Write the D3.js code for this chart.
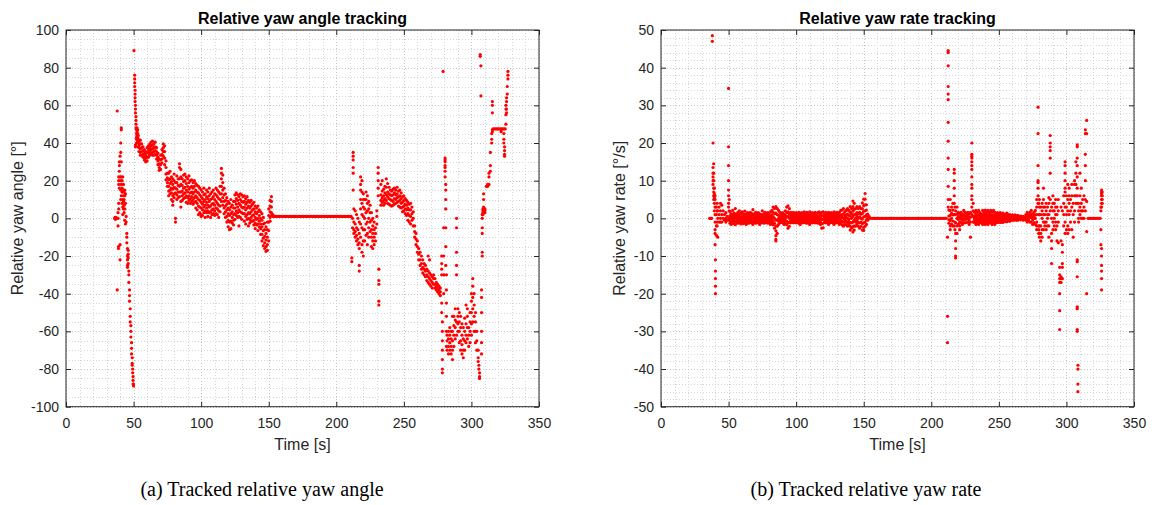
<!DOCTYPE html>
<html>
<head>
<meta charset="utf-8">
<script src="https://cdn.jsdelivr.net/npm/d3@7"></script>
<style>
  body { margin: 0; background: #fff; }
  svg { display: block; }
</style>
</head>
<body>
<script>
// tick labels
var timeTicks = [0, 50, 100, 150, 200, 250, 300, 350];
var angleTicks = [-100, -80, -60, -40, -20, 0, 20, 40, 60, 80, 100];
var rateTicks = [-50, -40, -30, -20, -10, 0, 10, 20, 30, 40, 50];

// relative yaw angle [deg], grouped as [time, [values at that time]]
var angleStart = [
  [36, [0]], [36.3, [0, 0.5]], [36.6, [0, -0.5]], [37, [0, 0.5]], [37.3, [0]],
  [37.9, [57, -38]],
  [38.5, [3, 0, -4]], [38.8, [-15, -16]],
  [39, [22, 20, 18, 8, 5]], [39.5, [30, 28, 25, 16]],
  [40, [33, 22, -14, -22]], [40.5, [40, 35, 20, 15, 10]],
  [40.9, [48, 47, 30, 22, 18, 12]], [41.5, [20, 16, 14, 8]],
  [42, [22, 14, 10, 6, 2]], [42.5, [18, 15, 12, 9, 5]],
  [43, [14, 10, 7, 3]], [43.5, [15, 12, 5, -1]],
  [44, [13, 8, -3]], [44.5, [1, -2]],
  [45, [-8, -10, -13]], [45.5, [-16, -20, -22, -25, -26]],
  [46, [-17, -19, -21, -24]], [46.5, [-28, -30, -34]],
  [47, [-38, -41, -44]], [47.5, [-48, -52, -55]],
  [48, [-57, -60, -63]], [48.5, [-66, -69, -72]],
  [49, [-74, -77, -78]], [49.3, [-80, -82]],
  [49.6, [-84, -86, -88]], [50, [-89, -88]]
];
var anglePeak = [
  [50.3, [89]],
  [50.8, [76, 74, 72, 70]], [51.1, [68, 66, 64, 62]], [51.4, [60, 58, 56, 39, 38]],
  [51.8, [54, 52, 50, 48]], [52.2, [47, 45, 43, 42, 40]], [52.6, [48, 46, 44, 42]],
  [53, [47, 45, 43, 41]], [53.5, [44, 42, 40, 38]],
  [54, [41, 39, 37.5, 35.5]], [55, [41.5, 39.5, 37, 35, 33.5]], [56, [39.5, 37.5, 35.5, 33.5]],
  [57, [38, 36, 34, 32.5]], [58, [36.5, 34.5, 32.5, 31]], [59, [35.5, 33.5, 32, 30]],
  [60, [37.5, 35, 32.5, 30.5]], [61, [38.5, 36.5, 34.5, 32.5]], [62, [39.5, 37.5, 35.5, 33.5]],
  [63, [40.5, 38.5, 36.5, 34.5]], [64, [41, 39, 37, 35, 33.5]], [65, [39.5, 37.5, 35.5, 33.5]],
  [66, [40.5, 38, 36, 34]], [67, [37.5, 35.5, 33.5, 31.5]], [68, [34.5, 32.5, 30.5, 28.5]],
  [69, [31.5, 29, 27, 25.5]], [70, [33.5, 31, 28.5, 26]], [71, [36.5, 34, 31.5, 29.5]],
  [72, [39.5, 37.5, 35.5, 33]], [73, [38.5, 35.5, 32, 28.5]], [74, [30.5, 27, 23.5, 20.5]],
  [75, [24, 21.5, 19, 17]]
];
var angleMid = [
  [76, [24, 20.5, 17, 14.5, 12]], [77, [25, 21, 18.5, 15, 13]], [78, [22, 19.5, 16, 13.5, 10]],
  [79, [21, 18, 15.5, 12, 9, 7]], [80, [23.5, 20, 16.5, 13, 11]], [81, [19, 16, 13.5, 0, -2]],
  [82, [22.5, 19, 15.5, 12.5, 10]], [83, [21, 17.5, 14, 11]], [84, [29, 27, 21, 17, 14, 11.5]],
  [85, [26, 22, 18, 14, 9, 6]], [86, [21, 17.5, 14.5, 12, 9.5]], [87, [23, 19.5, 16, 13, 10.5]],
  [88, [23.5, 20, 16.5, 13.5, 11]], [89, [22, 18.5, 15, 12, 8.5]], [90, [21, 17, 14, 11, 8]],
  [91, [22.5, 19, 15.5, 12, 9.5]], [92, [20, 16.5, 13.5, 10.5, 8]], [93, [20.5, 17, 14, 11.5, 9]],
  [94, [19, 16, 13, 10, 7.5]], [95, [20, 17, 14, 11, 8.5]], [96, [18.5, 15, 12, 9, 5.5]],
  [97, [17.5, 14, 11, 8, 4.5]], [98, [17, 13.5, 10, 6.5, 2]], [99, [16, 12.5, 9.5, 6, 3]],
  [100, [15, 11.5, 8.5, 5.5, 2, 1]], [101, [14, 10.5, 7.5, 4.5, 1.5]], [102, [16, 12.5, 9, 6, 3]],
  [103, [13, 10, 7, 4, 0.5]], [104, [15, 11.5, 8.5, 5.5, 3]], [105, [14, 10.5, 7, 4, 1]],
  [106, [16, 12, 9, 6, 3]], [107, [13, 10, 6.5, 3.5, 0.5]], [108, [14, 10.5, 7.5, 4.5, 2]],
  [109, [15, 11.5, 8, 5, 2.5]], [110, [13, 10, 7, 4, 1.5]], [111, [16, 12.5, 9, 5.5, 2.5]],
  [112, [15, 11.5, 8, 5, 2]], [113, [14, 10.5, 7, 4, 0.5]], [114, [17, 13, 10, 6.5, 3.5]],
  [115, [26.5, 24, 21, 17, 13, 9]], [116, [23, 19, 15, 11, 7]], [117, [16, 12.5, 9, 5.5, 2.5]],
  [118, [13, 9.5, 6.5, 3.5, 0.5]], [119, [11, 7.5, 4.5, 1, -2]], [120, [9, 5.5, 2.5, -1, -4.5]],
  [121, [8, 4.5, 1.5, -2, -6]], [122, [10, 6, 2.5, -1.5, -5.5]], [123, [7, 3.5, 0.5, -2.5]],
  [124, [9, 5.5, 2, -1, -3.5]], [125, [12.5, 9, 5.5, 2.5, -0.5]], [126, [13.5, 10.5, 7.5, 4, 1.5]],
  [127, [12.5, 9.5, 6, 3, 0.5]], [128, [11.5, 8, 4.5, 1, -4]], [129, [13, 10, 7, 3.5, 0.5]],
  [130, [12.5, 9, 6, 3, -0.5]], [131, [11.5, 8.5, 5.5, 2.5]], [132, [12, 9, 6, 2.5, -1.5]],
  [133, [10.5, 7.5, 4.5, 1, -3]], [134, [11.5, 8.5, 5.5, 2, -0.5]], [135, [9.5, 6.5, 3, 0, -4]],
  [136, [8.5, 5.5, 2.5, -0.5, -2.5]], [137, [9.5, 6.5, 3.5, 0.5, -1.5]], [138, [7.5, 4.5, 1.5, -1.5]],
  [139, [8.5, 5, 2, -1, -3.5]], [140, [6.5, 3.5, 0.5, -2.5, -5.5]], [141, [5.5, 2.5, -0.5, -3.5]],
  [142, [6.5, 3.5, 0, -3, -6.5]], [143, [4.5, 1.5, -1.5, -4.5]], [144, [3.5, 0, -3, -5.5, -8.5]],
  [145, [2.5, -1, -4.5, -8.5, -12]], [146, [0.5, -3, -6.5, -10.5, -14.5]], [147, [-2.5, -6, -9.5, -13, -16]],
  [148, [-4.5, -8, -11.5, -15, -17.5]], [149, [-2, -6, -10, -14, -17]], [150, [5, 1.5, -2, -6.5, -12]],
  [151, [9.5, 6.5, 3.5, 0.5, -1.5]], [152, [11.5, 9, 6, 3, 1.5]], [153, [2, 1]]
];
// flat hold at 1 deg
var angleFlatT = [154, 155, 156, 157, 158, 159, 160, 161, 162, 163, 164, 165, 166, 167, 168, 169, 170,
  171, 172, 173, 174, 175, 176, 177, 178, 179, 180, 181, 182, 183, 184, 185, 186, 187, 188, 189, 190,
  191, 192, 193, 194, 195, 196, 197, 198, 199, 200, 201, 202, 203, 204, 205, 206, 207, 208, 209, 210, 211];
var angleFlatV = 1;
var angleRecover = [
  [211.5, [-23, -21]], [212, [-5, 0]], [212.5, [35, 33, 31, 27, 24, 15]],
  [213, [5, -2, -6, -8]], [214, [4, -3, -7, -10]], [215, [2, -5, -9, -12]], [216, [0, -6, -11, -14]],
  [217, [-2, -8, -13, -16, -25, -28]], [218, [22, 18, 15, 10, 5, -3, -10]],
  [219, [20, 14, 8, 2, -5, -14, -18]], [220, [13, 10, 6, 1, -6, -12, -20]],
  [221, [10, 5, 0, -6, -12]], [222, [14, 10, 3, -3, -9]], [223, [12, 8, 4, -2, -8, -14]],
  [224, [9, 5, 0, -5, -10]], [225, [7, 3, -2, -7]], [226, [3, -1, -6, -10, -15]],
  [227, [0, -4, -8, -12, -16]], [228, [-2, -6, -10, -14]], [229, [-5, -8, -12]], [230, [4, 1, -3]],
  [231, [27, 24, 20, 16, 12]], [231.5, [-27, -33, -35, -44, -46]],
  [233, [18, 12.5, 9.5, 7]], [234, [20, 14.5, 11, 8.5]], [235, [15.5, 12, 9.5, 7]],
  [236, [17, 13.5, 10.5, 8]], [237, [21, 16.5, 12.5, 9.5]], [238, [18.5, 14, 11.5, 8]],
  [239, [16.5, 13, 10.5, 7.5]], [240, [15, 12.5, 10, 7]], [241, [14.5, 12, 9.5, 6.5]],
  [242, [15.5, 12.5, 9, 7]], [243, [16, 13.5, 10.5, 7.5]], [244, [15, 12.5, 10, 8]],
  [245, [16.5, 13, 11, 8.5]], [246, [14.5, 11.5, 9, 6.5]], [247, [15, 12, 9.5, 6]],
  [248, [13.5, 10.5, 8, 5.5]], [249, [11.5, 8.5, 6, 3.5]], [250, [12, 9.5, 6.5, 4]],
  [251, [10.5, 7.5, 5, 2.5]], [252, [9.5, 7, 4.5, 1.5]], [253, [8.5, 5.5, 2.5, -1]],
  [254, [7.5, 4.5, 1.5, -2]], [255, [8, 4.5, 1, -3]], [256, [6, 2.5, -1]], [257, [3.5, 0, -4]]
];
var angleDrop = [
  [258, [-4, -7, -10]], [259, [-8, -11, -14]], [260, [-12, -15, -18]], [261, [-16, -19, -22]],
  [262, [-18, -22, -25]], [263, [-20, -24, -27]], [264, [-22, -26, -29]], [265, [-24, -27, -30]],
  [266, [-25, -28, -31]], [267, [-27, -30, -33]], [268, [-20, -28, -31, -34]], [269, [-22, -29, -32, -35]],
  [270, [-30, -33, -36]], [271, [-31, -34, -37]], [272, [-30, -32, -35]], [273, [-32, -35, -37]],
  [274, [-34, -36, -38]], [275, [-35, -37, -39]], [276, [-36, -38, -40]], [277, [-37, -39, -41]],
  [278, [-20, -24, -27, -30, -45, -50]], [278.5, [-55, -60, -65, -70, -75, -80, -82]],
  [279, [78]], [279.5, [-5, -20, -30, -40]],
  [280.5, [32, 31, 30, 28, 27, 25, 22]], [281, [18, 15, 10, 5, -5, -15, -25]],
  [281.5, [-30, -38, -45, -52, -60, -68]],
  [282, [-65, -62, -70]], [283, [-68, -64, -60, -72]], [284, [-70, -66, -62, -58]],
  [285, [-72, -68, -64, -60]], [286, [-75, -70, -65, -60, -52]], [287, [-68, -62, -57, -52]],
  [288, [-64, -58, -54, -48]], [289, [0, -5, -18, -25, -30, -55, -62]], [290, [-60, -56, -52, -48]],
  [291, [-66, -60, -55, -50]], [292, [-70, -65, -58, -52]], [293, [-72, -67, -62, -56]],
  [294, [-74, -70, -64, -58]], [295, [-70, -65, -60, -53]], [296, [-66, -62, -56, -46]],
  [297, [-64, -58, -52, -48]], [298, [-68, -62, -58]], [299, [-66, -60, -55, -50]],
  [300, [-62, -56, -50, -44, -40]], [301, [-55, -48, -42, -36, -32]], [302, [-60, -52, -46, -40]],
  [303, [-66, -60, -55, -50]], [304, [-70, -65, -60]], [305, [-74, -70, -76]],
  [305.5, [-78, -80]], [306, [-82, -84, -85]]
];
var angleEnd = [
  [306.5, [87, 86]], [307, [81, 65]],
  [307.5, [-72, -66, -60, -50, -42, -38]], [308, [-20, -18, -8, -5, 0, 2]],
  [308.5, [4, 5, 3, 2]], [309, [13, 10, 6, 4]], [310, [5, 4, 3]],
  [311, [17]], [312, [17, 18]], [313, [18, 22, 24]], [314, [25, 28, 35]], [315, [40, 42, 45]],
  [315.5, [46, 47, 62, 60, 56]],
  [316, [47.5]], [317, [47.5]], [318, [47.5]], [319, [47.5]], [320, [47.5]],
  [321, [47.5]], [322, [47.5, 47, 46]], [323, [47.5]], [324, [47.5, 45, 42, 40]],
  [324.5, [38, 36, 34, 33]], [325, [47.5]],
  [325.5, [50, 55, 58, 60]], [326, [56, 58, 62, 64]], [326.5, [66, 70]], [327, [74, 76, 78]]
];

// relative yaw rate [deg/s]
var rateStart = [
  [36, [0]], [36.5, [0]], [37, [0]], [37.5, [0]],
  [38, [48.5, 47]], [38.5, [20, 13.5, 12, 11, 10, 9]],
  [39, [14.5, 12, 10, 8, 7, 6, 5]], [39.5, [8, 6.5, 6, 5.5, 4, 2]],
  [40, [6, 5, 3, 1, -1, -3, -4, -7]], [40.3, [-11, -14, -16, -18, -20]],
  [41, [3, 1, -2, -4.5]], [41.5, [4, 2, -1, -2]], [42, [2, 0, -5]], [43, [3, 1, -1]],
  [44, [4, 2, 0, -1]], [45, [3.5, 1, -1]], [46, [2, 0]], [47, [1, -0.5]],
  [48, [1.5, 0, -1]], [49, [0.5, -0.5]],
  [50, [34.5, 19, 14, 10, 7.5, 6, 4, 3]], [50.5, [5, 2, 0, -0.5]]
];
var rateBand1 = [
  [51, [1.8, 0.7, 0.1, -0.6, -1.3]], [52, [1.2, 0.4, -0.2, -0.9, -1.6]], [53, [2.1, 0.9, 0.2, -0.5, -1.1]],
  [54, [1.4, 0.6, -0.1, -0.7, -1.4]], [55, [2.6, 1.1, 0.3, -0.8, -1.7]], [56, [1.1, 0.5, 0, -0.4, -1.2]],
  [57, [1.6, 0.8, -0.3, -0.9, -1.3]], [58, [2, 1, 0.2, -0.6, -1.1]], [59, [1.3, 0.4, -0.2, -0.8, -1.5]],
  [60, [1.7, 0.6, 0.1, -0.5, -1.2]], [61, [1.2, 0.3, -0.4, -1, -1.4]], [62, [1.9, 0.8, 0, -0.7, -1.1]],
  [63, [1.1, 0.6, -0.1, -0.9, -1.6]], [64, [1.5, 0.7, 0.2, -0.6, -1.2]], [65, [1.2, 0.4, -0.2, -0.8, -1.3]],
  [66, [1.6, 0.5, -0.3, -0.7, -1.1]], [67, [1.3, 0.9, 0.1, -0.5, -1.2]], [68, [2.3, 1, 0.2, -0.8, -1.6]],
  [69, [1.2, 0.5, -0.1, -0.6, -1.1]], [70, [1.6, 0.7, 0, -0.7, -1.3]], [71, [1.1, 0.3, -0.5, -0.9, -1.2]],
  [72, [1.5, 0.8, 0.2, -0.4, -1.1]], [73, [1.2, 0.5, -0.2, -0.8, -1.6]], [74, [1, 0.4, 0, -0.6, -1.2]],
  [75, [2, 0.9, 0.1, -0.5, -1.1]], [76, [1.2, 0.3, -0.4, -0.9, -1.3]], [77, [1.6, 0.6, 0, -0.6, -1.2]],
  [78, [1.1, 0.7, 0.1, -0.5, -1]], [79, [1.5, 0.5, -0.2, -0.7, -1.3]], [80, [1.2, 0.4, 0, -0.6, -1.1]],
  [81, [1.7, 0.6, -0.1, -0.8, -1.6]], [82, [2.1, 0.9, 0.2, -0.5, -1.2]], [83, [3, 1.6, 0.4, -0.7, -1.7]],
  [84, [2.6, 1.2, 0, -1.3, -2.6]], [85, [3.1, 1.4, -0.5, -2, -3.3, -4.6, -5.6, -6]],
  [86, [2.6, 1, -0.4, -2.1, -4]], [87, [2.1, 0.8, 0, -0.8, -1.6]], [88, [1.6, 0.5, -0.2, -0.6, -1.2]],
  [89, [1.2, 0.4, 0, -0.5, -1.1]], [90, [1.5, 0.7, -0.3, -0.8, -1.2]], [91, [1.1, 0.3, -0.1, -0.9, -1.6]],
  [92, [2, 0.8, 0.1, -0.5, -1.2]], [93, [3, 1.5, 0.4, -0.7, -1.7]], [94, [3.3, 1.7, 0.5, -1.2, -2.6]],
  [95, [2.6, 1.1, 0, -1, -2.1]], [96, [1.6, 0.6, 0, -0.6, -1.2]], [97, [1.1, 0.4, -0.1, -0.5, -1.1]],
  [98, [1.6, 0.8, 0.2, -0.5, -1.2]], [99, [1.2, 0.5, 0, -0.6, -1]], [100, [1.5, 0.6, -0.2, -0.7, -1.2]],
  [101, [1.1, 0.3, -0.3, -0.8, -1.1]], [102, [1.6, 0.7, 0.1, -0.5, -1.3]], [103, [1.2, 0.6, -0.1, -0.9, -1.6]],
  [104, [1.5, 0.5, 0, -0.6, -1.1]], [105, [1.1, 0.4, -0.2, -0.7, -1.2]], [106, [1.7, 0.8, 0.1, -0.5, -1.1]],
  [107, [1.2, 0.3, -0.4, -0.8, -1.2]], [108, [1.6, 0.6, 0, -0.6, -1.3]], [109, [1.1, 0.5, -0.1, -0.5, -1]],
  [110, [1.7, 0.7, 0.2, -0.8, -1.6]], [111, [1.2, 0.4, -0.2, -0.6, -1.1]], [112, [1.5, 0.6, 0, -0.7, -1.2]],
  [113, [1.1, 0.3, -0.1, -0.5, -1.1]], [114, [1.6, 0.8, 0.1, -0.6, -1.2]], [115, [1.2, 0.4, -0.4, -0.8, -1.1]],
  [116, [1.5, 0.6, 0, -0.5, -1.3]], [117, [1.7, 0.7, 0.1, -0.7, -1.2]], [118, [1.2, 0.4, -0.2, -0.9, -1.6]],
  [119, [1.6, 0.6, -0.3, -1.4, -2.6]], [120, [1.7, 0.7, -0.2, -1.3, -2.5]], [121, [1.1, 0.3, 0, -0.6, -1.1]],
  [122, [1.6, 0.8, 0.1, -0.5, -1.2]], [123, [1.2, 0.4, -0.2, -0.7, -1.1]], [124, [1.6, 0.6, 0, -0.8, -1.6]],
  [125, [1.1, 0.5, -0.1, -0.5, -1.2]], [126, [1.5, 0.7, 0.1, -0.6, -1.1]], [127, [1.2, 0.3, -0.3, -0.7, -1.2]],
  [128, [1.7, 0.8, 0.2, -0.8, -1.6]], [129, [1.1, 0.4, -0.1, -0.5, -1.1]], [130, [1.6, 0.6, 0, -0.6, -1.2]],
  [131, [1.2, 0.5, -0.2, -0.7, -1.1]], [132, [1.6, 0.7, 0.1, -0.8, -1.6]], [133, [2.1, 0.9, 0, -0.6, -1.2]],
  [134, [2.2, 1, 0.3, -0.8, -1.7]], [135, [2.6, 1.2, 0, -1, -2.1]], [136, [1.7, 0.7, -0.1, -0.8, -1.6]],
  [137, [2.1, 0.9, 0.3, -0.7, -1.7]], [138, [2.6, 1.1, 0, -1.1, -2.1]], [139, [2.1, 0.8, -0.2, -0.8, -1.6]],
  [140, [3.1, 1.6, 0.6, -1.1, -2.1, -3.1]], [141, [2.6, 1.2, 0, -1.2, -2.6]],
  [142, [4.6, 3.1, 1.9, 0.5, -1, -2.2, -3.6]], [143, [4, 2.4, 1, -0.5, -2, -3.1]],
  [144, [2.6, 1.1, 0, -1, -2.1]], [145, [3.1, 1.5, 0.5, -0.6, -1.6]], [146, [2.6, 1.2, 0, -1.1, -2.1]],
  [147, [3.1, 1.6, 0.4, -1.2, -2.6]], [148, [2.6, 1.1, 0, -1, -2.1]], [149, [4.1, 2.6, 1.3, -0.2, -1.4, -3.1]],
  [150, [5.1, 3.4, 1.9, 0.4, -1.2, -2.4, -3.2]], [151, [6.6, 5.1, 3.6, 2, 0.5, -1, -2.1]],
  [152, [3.6, 2.2, 0.9, -0.4, -1.6]], [153, [1.1, 0.4, 0, -0.5]], [154, [0.5, 0]]
];
var rateFlatT = [155, 156, 157, 158, 159, 160, 161, 162, 163, 164, 165, 166, 167, 168, 169, 170,
  171, 172, 173, 174, 175, 176, 177, 178, 179, 180, 181, 182, 183, 184, 185, 186, 187, 188, 189, 190,
  191, 192, 193, 194, 195, 196, 197, 198, 199, 200, 201, 202, 203, 204, 205, 206, 207, 208, 209, 210, 211,
  316, 317, 318, 319, 320, 321, 322, 323, 324, 325];
var rateFlatV = 0;
var rateSpike = [
  [212, [-33, -26, -5]], [212.5, [44.5, 44, 40.5, 35, 33, 31.5, 25.5, 20.5, 16, 13, 8.5, 5, 3]],
  [213, [2.2, 0.6, -0.4, -1.3]], [214, [5, 2.1, 0.8, -0.6, -2, -3]], [215, [3, 1.3, 0, -1.5]],
  [216, [4, 2.2, 0.9, -0.7, -2]], [217, [13, 12, 10, 8, 6, 4, 1, -2]], [217.5, [3, 1, -1, -3]],
  [218, [2, -1.2, -4, -6, -8, -10, -10.5]], [219, [3, 1.1, 0, -2, -4]], [220, [1.6, 0.5, -0.3, -1.5]],
  [221, [1.2, 0.2, -1, -2, -3]], [222, [1.6, 0.6, -0.2, -1.1]], [223, [1.1, 0.3, -0.5, -1.6]],
  [224, [2.1, 0.9, 0, -1.1]], [225, [1.6, 0.6, -0.3, -1.2]], [226, [1.2, 0.4, -0.2, -1.1]],
  [227, [1.6, 0.7, -0.1, -1]], [228, [1.1, 0.3, -0.4, -1.6]], [229, [1.6, 0.3, -1, -5]],
  [230, [20, 17, 16.5, 16, 15, 14, 13, 11, 9, 8, 6, 5, 3, 1]], [231, [4, 2, 0.5, -1]]
];
var rateBand2 = [
  [232, [1.6, 0.6, 0, -0.5, -1.1]], [233, [2.1, 1, 0.3, -0.6, -1.6]], [234, [1.6, 0.7, -0.1, -0.7, -1.2]],
  [235, [2.1, 0.9, 0, -0.8, -1.6]], [236, [1.5, 0.8, 0.2, -0.5, -1.1]], [237, [1.1, 0.4, -0.2, -0.6, -1.2]],
  [238, [2.1, 1, 0.2, -0.7, -1.6]], [239, [1.6, 0.6, 0, -0.5, -1.1]], [240, [2.2, 1.1, 0.4, -0.6, -1.6]],
  [241, [1.6, 0.7, -0.1, -0.6, -1.2]], [242, [2.1, 0.9, 0.1, -0.8, -1.6]], [243, [1.5, 0.8, 0.3, -0.5, -1.1]],
  [244, [2.1, 1, 0.1, -0.6, -1.2]], [245, [1.6, 0.6, -0.1, -0.8, -1.6]], [246, [2.1, 0.9, 0.4, -0.5, -1.1]],
  [247, [1.6, 0.7, 0, -0.7, -1.6]], [248, [1.1, 0.5, -0.1, -0.5, -1.1]], [249, [1.5, 0.6, 0, -0.6, -1.1]],
  [250, [1.2, 0.6, 0.1, -0.4, -1]], [251, [1.5, 0.7, 0, -0.6, -1.1]], [252, [1.1, 0.4, -0.1, -0.5, -1]],
  [253, [1.4, 0.6, 0, -0.5, -1.1]], [254, [1, 0.4, 0, -0.5]], [255, [1.1, 0.4, -0.1, -0.9]],
  [256, [1.4, 0.6, 0, -0.9]], [257, [0.9, 0.3, 0, -0.5]], [258, [1, 0.4, 0, -0.8]],
  [259, [0.6, 0.2, -0.1, -0.5]], [260, [0.9, 0.3, 0, -0.5]], [261, [0.5, 0.2, 0, -0.5]],
  [262, [0.9, 0.3, 0, -0.4]], [263, [0.6, 0.1, -0.5]], [264, [0.8, 0.3, 0, -0.5]],
  [265, [0.5, 0]], [266, [0.6, 0, -0.4]], [267, [0.5, 0]], [268, [0.5, 0, -0.5]], [269, [0.4, 0]],
  [270, [1, 0.4, 0, -0.5]], [271, [1.6, 0.7, 0, -1]], [272, [1, 0.3, 0, -0.5]],
  [273, [1.6, 0.8, 0.2, -1]], [274, [2.1, 1, 0.2, -1]], [275, [1.1, 0.4, -0.4, -1.6]],
  [276, [1.6, 0.7, 0, -1.1]], [277, [2.1, 0.9, 0, -1.6]]
];
var rateLate = [
  [278, [5, 3, 1, -1, -2, -3]], [279, [29.5, 22.5, 14, 10, 9.5, 8, 6, 4]],
  [279.5, [4, 1, -2, -3, -4]], [280, [5, 3, 1, -2, -4, -5]], [281, [3, 1, -2, -4, -6]],
  [282, [4, 2, 0, -3, -5]], [283, [8, 5, 3, 1, -1, -3]], [284, [3, 1, -1, -2]],
  [285, [4, 2, -1, -3]], [286, [3, 1, 0, -2]], [287, [5.5, 4, 1, -2, -5]],
  [288, [22, 20, 19, 18, 16, 12, 5, 2]], [289, [3, 0, -4, -6, -8, -12]],
  [290, [6, 4, 2, -1, -3]], [291, [4, 2, 0, -2]], [292, [5, 3, 1, -1, -3]],
  [293, [3, 1, -2, -6]], [294, [5, 2, -1, -6.5]], [295, [-13, -15, -16, -17, -20, -24.5, -29.5]],
  [296, [3, -6, -15.5, -16, -17]], [297, [2, -7, -9, -12, -13, -16]], [298, [6, 4, 1, -2]],
  [299, [15, 14, 12, 10, 8, 7, 3, -1, -4]], [300, [6, 3, 1, -3]], [301, [9, 5, 2, -2, -4]],
  [302, [8, 6, 4, 1, -3]], [303, [5, 2, -1]], [304, [9, 6, 3, -3]], [305, [4, 1, -5]],
  [306, [10, 9, 6, 2, -1]], [307, [15, 12, 9, 6, 4]],
  [308, [19.5, 19, 16, 14, 11, 8, 6, 4, -11, -11.5, -15.5, -23.5, -24, -29.5, -30]],
  [308.5, [-39, -40, -44, -46]], [309, [4, 2, 0, -1]], [310, [12, 6, 3, 1]],
  [311, [8, 4, 2, 0]], [312, [5, 2, 0]], [313, [6, 3, 0]],
  [314, [23.5, 22.5, 17, 14, 10, 5, 2]], [315, [26, 22.5, 4.5, -3.5, -20]]
];
var rateTail = [
  [325.5, [2, 3, -3, -7]],
  [326, [7.5, 7, 6.5, 6, 5, 4, 3, -8, -10, -12.5, -14, -16, -19]],
  [326.5, [7, 6, 5, 4]]
];

function expand(groups) {
  var out = [];
  groups.forEach(function(g) {
    g[1].forEach(function(v) { out.push({ t: g[0], v: v }); });
  });
  return out;
}

var angleData = expand(angleStart.concat(anglePeak, angleMid, angleRecover, angleDrop, angleEnd))
  .concat(angleFlatT.map(function(t) { return { t: t, v: angleFlatV }; }));
var rateData = expand(rateStart.concat(rateBand1, rateSpike, rateBand2, rateLate, rateTail))
  .concat(rateFlatT.map(function(t) { return { t: t, v: rateFlatV }; }));

var font = '"Liberation Sans", Arial, sans-serif';
// plain hyphen for negatives, like the original figure
var plain = function(d) { return String(d); };

var svg = d3.select("body").append("svg")
  .attr("width", 1162)
  .attr("height", 505);

function drawPanel(p) {
  var x = d3.scaleLinear().domain([0, 350]).range([p.left, p.right]);
  var y = d3.scaleLinear().domain(p.yDomain).range([p.bottom, p.top]);
  var g = svg.append("g");

  // minor + major grid, all dotted
  var xMinor = d3.range(0, 351, 10);
  var yMinor = d3.range(p.yDomain[0], p.yDomain[1] + 0.01, p.yMinor);
  g.append("g").selectAll("line").data(xMinor).enter().append("line")
    .attr("x1", function(d) { return Math.round(x(d)) + 0.5; })
    .attr("x2", function(d) { return Math.round(x(d)) + 0.5; })
    .attr("y1", p.top).attr("y2", p.bottom)
    .attr("stroke", function(d) { return d % 50 === 0 ? "#c4c4c4" : "#d6d6d6"; })
    .attr("stroke-dasharray", "1,2");
  g.append("g").selectAll("line").data(yMinor).enter().append("line")
    .attr("y1", function(d) { return Math.round(y(d)) + 0.5; })
    .attr("y2", function(d) { return Math.round(y(d)) + 0.5; })
    .attr("x1", p.left).attr("x2", p.right)
    .attr("stroke", function(d) { return d % p.yStep === 0 ? "#c4c4c4" : "#d6d6d6"; })
    .attr("stroke-dasharray", "1,2");

  // the dots
  g.append("g").selectAll("circle").data(p.data).enter().append("circle")
    .attr("cx", function(d) { return x(d.t); })
    .attr("cy", function(d) { return y(d.v); })
    .attr("r", 1.6)
    .attr("fill", "#ff0000");

  // axes with inward ticks on all four sides
  g.append("g").attr("transform", "translate(0," + p.bottom + ")")
    .call(d3.axisBottom(x).tickValues(timeTicks).tickFormat(plain).tickSize(-5).tickPadding(11));
  g.append("g").attr("transform", "translate(" + p.left + ",0)")
    .call(d3.axisLeft(y).tickValues(p.yTicks).tickFormat(plain).tickSize(-5).tickPadding(7));
  g.append("g").attr("transform", "translate(0," + p.top + ")")
    .call(d3.axisTop(x).tickValues(timeTicks).tickSize(-5).tickFormat(""));
  g.append("g").attr("transform", "translate(" + p.right + ",0)")
    .call(d3.axisRight(y).tickValues(p.yTicks).tickSize(-5).tickFormat(""));
  g.selectAll(".domain").remove();
  g.selectAll(".tick line").attr("stroke", "#262626");
  g.selectAll(".tick text").style("font-size", "14px").style("font-family", font).attr("fill", "#262626");

  g.append("rect")
    .attr("x", p.left).attr("y", p.top)
    .attr("width", p.right - p.left).attr("height", p.bottom - p.top)
    .attr("fill", "none").attr("stroke", "#262626").attr("stroke-width", 1);

  g.append("text")
    .attr("x", (p.left + p.right) / 2).attr("y", p.top - 6)
    .attr("text-anchor", "middle")
    .style("font-family", font).style("font-size", "16px").style("font-weight", "bold")
    .attr("fill", "#000")
    .text(p.title);

  g.append("text")
    .attr("x", (p.left + p.right) / 2).attr("y", p.bottom + 43)
    .attr("text-anchor", "middle")
    .style("font-family", font).style("font-size", "16px")
    .attr("fill", "#262626")
    .text("Time [s]");

  g.append("text")
    .attr("transform", "translate(" + p.yLabelX + "," + (p.top + p.bottom) / 2 + ") rotate(-90)")
    .attr("text-anchor", "middle")
    .style("font-family", font).style("font-size", "16px")
    .attr("fill", "#262626")
    .text(p.yLabel);

  svg.append("text")
    .attr("x", p.captionX).attr("y", 496)
    .attr("text-anchor", "middle")
    .style("font-family", '"Liberation Serif", "Times New Roman", serif').style("font-size", "20px")
    .attr("fill", "#000")
    .text(p.caption);
}

drawPanel({
  left: 66, right: 539, top: 30, bottom: 406.7,
  yDomain: [-100, 100], yTicks: angleTicks, yStep: 20, yMinor: 5,
  data: angleData,
  title: "Relative yaw angle tracking",
  yLabel: "Relative yaw angle [°]", yLabelX: 23,
  caption: "(a) Tracked relative yaw angle", captionX: 262
});

drawPanel({
  left: 661, right: 1134, top: 30, bottom: 406.7,
  yDomain: [-50, 50], yTicks: rateTicks, yStep: 10, yMinor: 2,
  data: rateData,
  title: "Relative yaw rate tracking",
  yLabel: "Relative yaw rate [°/s]", yLabelX: 625,
  caption: "(b) Tracked relative yaw rate", captionX: 866
});
</script>
</body>
</html>
